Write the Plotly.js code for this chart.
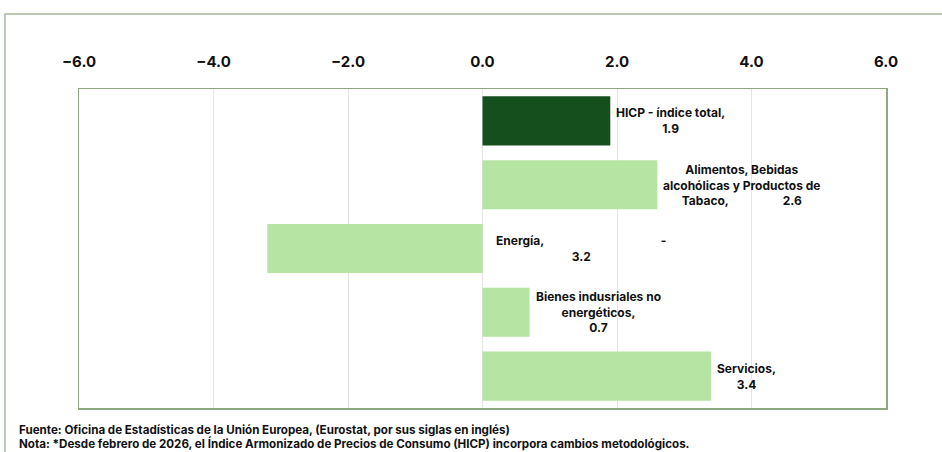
<!DOCTYPE html>
<html>
<head>
<meta charset="utf-8">
<script src="https://cdn.plot.ly/plotly-3.0.1.min.js"></script>
<style>html,body{margin:0;padding:0;background:#fff;}#chart{width:942px;height:452px;}</style>
</head>
<body>
<div id="chart"></div>
<script>
const categories = ["HICP - índice total", "Alimentos, Bebidas alcohólicas y Productos de Tabaco", "Energía", "Bienes indusriales no energéticos", "Servicios"];
const values = [1.9, 2.6, -3.2, 0.7, 3.4];
const NB = n => "\u00a0".repeat(n);
const dataLabels = [
  "HICP - índice total,<br>1.9",
  "Alimentos, Bebidas<br>alcohólicas y Productos de<br>Tabaco," + NB(19) + "2.6",
  "Energía," + NB(41) + "-<br>3.2",
  "Bienes indusriales no<br>energéticos,<br>0.7",
  "Servicios,<br>3.4"
];
const barColors = ["#154f1e", "#b5e4a3", "#b5e4a3", "#b5e4a3", "#b5e4a3"];
const tickVals = [-6, -4, -2, 0, 2, 4, 6];
const footnotes = [
  "Fuente: Oficina de Estadísticas de la Unión Europea, (Eurostat, por sus siglas en inglés)",
  "Nota: *Desde febrero de 2026, el Índice Armonizado de Precios de Consumo (HICP) incorpora cambios metodológicos."
];

const W = 942, H = 452;
const margin = {l: 79, r: 56, t: 89, b: 44};
const pw = W - margin.l - margin.r, ph = H - margin.t - margin.b;
const px2x = p => (p - margin.l) / pw;
const px2y = p => (H - margin.b - p) / ph;

const labelFont = {family: "Inter, 'Open Sans', sans-serif", size: 12, color: "#111", weight: 700};

const annotations = categories.map((c, i) => ({
  x: Math.max(values[i], 0), y: c, xref: "x", yref: "y",
  text: dataLabels[i], showarrow: false, xanchor: "left", yanchor: "middle",
  align: "center", xshift: values[i] < 0 ? 11 : 4, font: labelFont
}));
footnotes.forEach((t, k) => annotations.push({
  x: px2x(17), y: px2y(430 + k * 13.5), xref: "paper", yref: "paper",
  text: t, showarrow: false, xanchor: "left", yanchor: "middle", align: "left",
  font: {family: "Inter, 'Open Sans', sans-serif", size: 11.6, color: "#111", weight: 700}
}));

const trace = {
  type: "bar", orientation: "h", x: values, y: categories,
  marker: {color: barColors, line: {width: 0}}, width: 0.77,
  hoverinfo: "none"
};

const layout = {
  width: W, height: H, margin: margin,
  paper_bgcolor: "#fff", plot_bgcolor: "#fff",
  showlegend: false,
  xaxis: {
    side: "top", range: [-6, 6], tickvals: tickVals, tickformat: ".1f",
    ticks: "", ticklen: 0, ticklabelstandoff: 15,
    showgrid: true, gridcolor: "#e4e4e4", gridwidth: 1,
    zeroline: true, zerolinecolor: "#e4e4e4", zerolinewidth: 1,
    showline: true, linecolor: "#8ea87f", linewidth: 1.5, mirror: true,
    tickfont: {family: "Inter, 'Open Sans', sans-serif", size: 15, color: "#111", weight: 700},
    automargin: false
  },
  yaxis: {
    type: "category", categoryorder: "array", categoryarray: categories,
    autorange: "reversed", showticklabels: false, ticks: "", showgrid: false,
    zeroline: false, showline: true, linecolor: "#8ea87f", linewidth: 1.5, mirror: true,
    automargin: false
  },
  annotations: annotations,
  shapes: [{
    type: "path", xref: "paper", yref: "paper",
    path: `M ${px2x(5)} ${px2y(470)} L ${px2x(5)} ${px2y(14)} L ${px2x(960)} ${px2y(14)}`,
    line: {color: "#a6b99a", width: 1.5}
  }]
};

Plotly.newPlot("chart", [trace], layout, {displayModeBar: false, staticPlot: true});
</script>
</body>
</html>
